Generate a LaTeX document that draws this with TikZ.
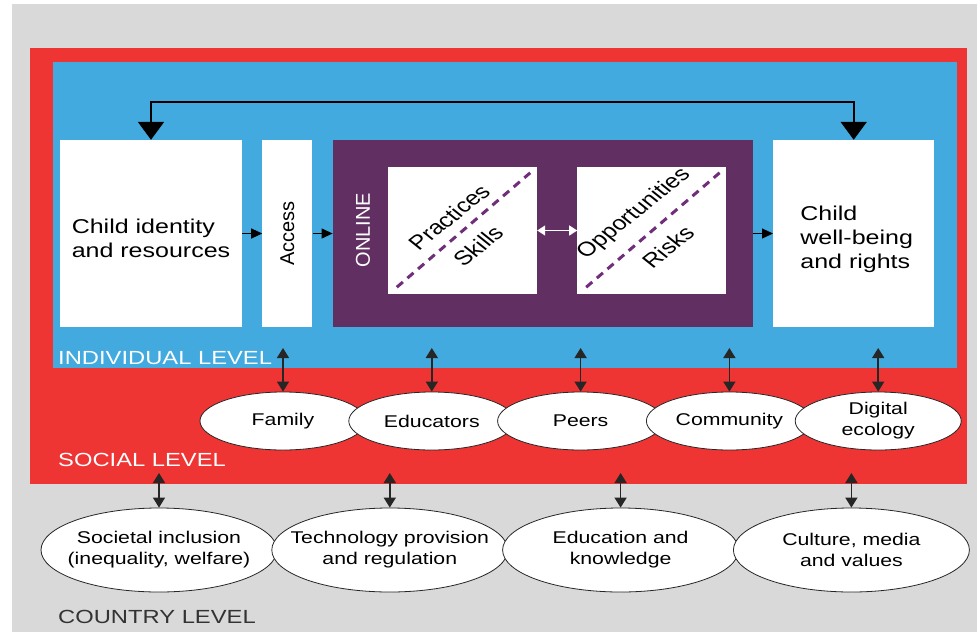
\documentclass[tikz,border=0pt]{standalone}
\usepackage{fontspec}
\setmainfont{Liberation Sans}[FakeStretch=1.25]
\newfontfamily\plainfont{Liberation Sans}
\usetikzlibrary{arrows.meta,positioning,shapes.geometric}

\definecolor{socialred}{RGB}{238,53,52}
\definecolor{indblue}{RGB}{66,170,223}
\definecolor{onlinepurple}{RGB}{98,47,99}
\definecolor{dashpurple}{RGB}{112,46,122}
\definecolor{countrygray}{RGB}{217,217,217}

\begin{document}
\begin{tikzpicture}[x=1pt,y=-1pt]
  \tikzset{
    block/.style={fill=white,inner sep=0pt,minimum height=187pt},
    blocktext/.style={inner sep=0pt,align=left,font=\fontsize{20}{24}\selectfont},
    subbox/.style={fill=white,inner sep=0pt,minimum width=149pt,minimum height=127pt},
    social/.style={ellipse,draw=black!85,line width=0.8pt,fill=white,inner xsep=-40pt,inner ysep=0pt,minimum width=166pt,minimum height=58pt,align=center,font=\fontsize{17}{21}\selectfont},
    country/.style={social,minimum width=236pt,minimum height=84pt},
    uptext/.style={rotate=90,inner sep=0pt,font=\plainfont\fontsize{20}{24}\selectfont},
    diagtext/.style={xscale=1.25,rotate=45,transform shape,inner sep=0pt,font=\plainfont\fontsize{20}{24}\selectfont},
    levellabel/.style={anchor=base west,inner sep=0pt,font=\fontsize{19}{23}\selectfont},
    flow/.style={-{Triangle[width=10pt,length=11pt]},line width=1.2pt},
    feedback/.style={{Triangle[width=26pt,length=18pt]}-{Triangle[width=26pt,length=18pt]},line width=2pt},
    link/.style={draw=black!85,{Triangle[width=12pt,length=10pt]}-{Triangle[width=12pt,length=10pt]},line width=1.5pt},
    dashline/.style={draw=dashpurple,line width=3pt,dash pattern=on 8pt off 6pt}
  }
  \useasboundingbox (0,0) rectangle (977,632);

  % the three levels
  \fill[countrygray] (12,4) rectangle (977,632);
  \fill[socialred] (30,48) rectangle (967,484);
  \fill[indblue] (53,62) rectangle (957,368);

  % individual level
  \node[block,minimum width=182pt] (child) at (151,233.5) {};
  \node[block,minimum width=50pt,right=20pt of child] (access) {};
  \node[fill=onlinepurple,inner sep=0pt,minimum width=420pt,minimum height=187pt,right=20pt of access] (online) {};
  \node[block,minimum width=161pt,right=20pt of online] (wellbeing) {};

  \node[blocktext] (childlabel) at ([yshift=-5pt]child) {Child identity\\and resources};
  \node[blocktext] (wellbeinglabel) at ([xshift=3pt,yshift=-6pt]wellbeing) {Child\\well-being\\and rights};
  \node[uptext] (accesslabel) at (access) {Access};
  \node[uptext,text=white] (onlinelabel) at (363,230) {ONLINE};

  \node[subbox] (practices) at (462.5,230.5) {};
  \node[subbox,right=40pt of practices] (opportunities) {};
  \draw[dashline] ([shift={(9,-7)}]practices.south west) -- ([shift={(-7,6)}]practices.north east);
  \draw[dashline] ([shift={(9,-7)}]opportunities.south west) -- ([shift={(-7,6)}]opportunities.north east);

  \node[diagtext] (practiceslabel) at (449,217) {Practices};
  \node[diagtext] (skillslabel) at (478,246) {Skills};
  \node[diagtext] (opportunitieslabel) at (634,214) {Opportunities};
  \node[diagtext] (riskslabel) at (668,247) {Risks};

  \draw[flow] (child) -- (access);
  \draw[flow] (access) -- (online);
  \draw[flow] (online) -- (wellbeing);
  \draw[white,line width=1.2pt,{Triangle[width=10pt,length=8pt]}-{Triangle[width=10pt,length=8pt]}] (practices) -- (opportunities);

  \coordinate (top) at (0,102);
  \draw[feedback] (child.north) -- (child.north |- top) -| (wellbeing.north);

  % level names
  \node[levellabel,text=white] (individuallabel) at (58,364) {INDIVIDUAL LEVEL};
  \node[levellabel,text=white] (sociallabel) at (58,466) {SOCIAL LEVEL};
  \node[levellabel,text=black!80] (countrylabel) at (58,623) {COUNTRY LEVEL};

  % social level
  \node[social] (family) at (283,421) {Family};
  \node[social,right=-18pt of family] (educators) {Educators};
  \node[social,right=-18pt of educators] (peers) {Peers};
  \node[social,right=-18pt of peers] (community) {Community};
  \node[social,right=-18pt of community] (digital) {Digital\\ecology};

  % country level
  \node[country] (inclusion) at (159,550) {Societal inclusion\\(inequality, welfare)};
  \node[country,right=-6pt of inclusion] (technology) {Technology provision\\and regulation};
  \node[country,right=-6pt of technology] (education) {Education and\\knowledge};
  \node[country,right=-6pt of education] (culture) {Culture, media\\and values};

  \coordinate (indline) at (0,348);
  \coordinate (socline) at (0,473);
  \path[every edge/.style={link}]
  (family.north) edge (family.north |- indline)
  (educators.north) edge (educators.north |- indline)
  (peers.north) edge (peers.north |- indline)
  (community.north) edge (community.north |- indline)
  (digital.north) edge (digital.north |- indline)
  (inclusion.north) edge (inclusion.north |- socline)
  (technology.north) edge (technology.north |- socline)
  (education.north) edge (education.north |- socline)
  (culture.north) edge (culture.north |- socline);
\end{tikzpicture}
\end{document}
